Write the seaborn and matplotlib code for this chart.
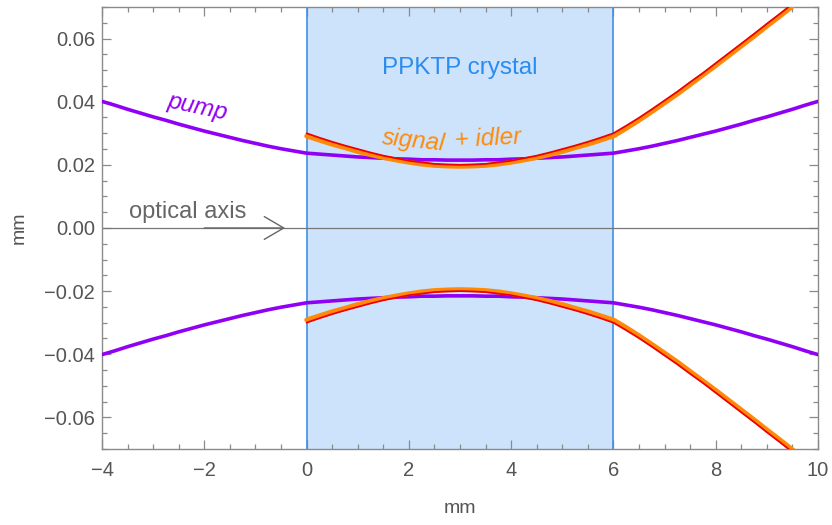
import numpy as np
import matplotlib
matplotlib.use("Agg")
import matplotlib.pyplot as plt
from matplotlib.ticker import MultipleLocator, FuncFormatter
import seaborn as sns

# Beam radii (mm) along the optical axis (mm)
pump_z = [-4.0, -3.75, -3.5, -3.25, -3.0, -2.75, -2.5, -2.25, -2.0, -1.75, -1.5, -1.25,
          -1.0, -0.75, -0.5, -0.25, 0.0, 0.25, 0.5, 0.75, 1.0, 1.25, 1.5, 1.75, 2.0, 2.25,
          2.5, 2.75, 3.0, 3.25, 3.5, 3.75, 4.0, 4.25, 4.5, 4.75, 5.0, 5.25, 5.5, 5.75, 6.0,
          6.25, 6.5, 6.75, 7.0, 7.25, 7.5, 7.75, 8.0, 8.25, 8.5, 8.75, 9.0, 9.25, 9.5,
          9.75, 10.0]
pump_w = [0.0401, 0.0389, 0.0376, 0.0364, 0.0352, 0.0341, 0.0329, 0.0318, 0.0307, 0.0297,
          0.0287, 0.0277, 0.0268, 0.0259, 0.0251, 0.0244, 0.0237, 0.0234, 0.0231, 0.0228,
          0.0225, 0.0223, 0.0221, 0.0219, 0.0218, 0.0216, 0.0216, 0.0215, 0.0215, 0.0215,
          0.0216, 0.0216, 0.0218, 0.0219, 0.0221, 0.0223, 0.0225, 0.0228, 0.0231, 0.0234,
          0.0237, 0.0244, 0.0251, 0.0259, 0.0268, 0.0277, 0.0287, 0.0297, 0.0307, 0.0318,
          0.0329, 0.0341, 0.0352, 0.0364, 0.0376, 0.0389, 0.0401]

dc_z = [0.0, 0.25, 0.5, 0.75, 1.0, 1.25, 1.5, 1.75, 2.0, 2.25, 2.5, 2.75, 3.0, 3.25, 3.5,
        3.75, 4.0, 4.25, 4.5, 4.75, 5.0, 5.25, 5.5, 5.75, 6.0, 6.25, 6.5, 6.75, 7.0, 7.25,
        7.5, 7.75, 8.0, 8.25, 8.5, 8.75, 9.0, 9.25, 9.5, 9.75, 10.0]
signal_w = [0.0291, 0.0278, 0.0265, 0.0254, 0.0242, 0.0232, 0.0223, 0.0215, 0.0208, 0.0202,
            0.0198, 0.0196, 0.0195, 0.0196, 0.0198, 0.0202, 0.0208, 0.0215, 0.0223, 0.0232,
            0.0242, 0.0254, 0.0265, 0.0278, 0.0291, 0.0315, 0.0341, 0.0368, 0.0396, 0.0424,
            0.0454, 0.0484, 0.0514, 0.0545, 0.0576, 0.0607, 0.0639, 0.0670, 0.0702, 0.0734,
            0.0766]
idler_w = [0.0300, 0.0286, 0.0273, 0.0261, 0.0250, 0.0239, 0.0229, 0.0221, 0.0213, 0.0208,
           0.0203, 0.0201, 0.0200, 0.0201, 0.0203, 0.0208, 0.0213, 0.0221, 0.0229, 0.0239,
           0.0250, 0.0261, 0.0273, 0.0286, 0.0300, 0.0324, 0.0349, 0.0376, 0.0404, 0.0432,
           0.0462, 0.0491, 0.0522, 0.0553, 0.0584, 0.0615, 0.0647, 0.0678, 0.0710, 0.0743,
           0.0775]

crystal_start, crystal_end = 0.0, 6.0
x_range = (-4, 10)
y_range = (-0.07, 0.07)

sns.set_style("ticks")
plt.rcParams["font.family"] = ["Liberation Sans", "DejaVu Sans"]

PURPLE = "#9000F5"
ORANGE = "#FF8A0A"
RED = "#F00000"
FRAME = "#8a8a8a"
TXT = "#555555"

fig = plt.figure(figsize=(8.32, 5.25), dpi=100)
ax = fig.add_axes([0.1226, 0.1448, 0.8606, 0.8419])

# crystal region
ax.axvspan(crystal_start, crystal_end, facecolor="#CDE3FB", edgecolor="none", zorder=0)
for xv in (crystal_start, crystal_end):
    ax.axvline(xv, color="#3F8FE8", lw=1.2, zorder=1)

# optical axis with an open chevron
ax.axhline(0, color="#777777", lw=0.9, zorder=1)
ax.annotate("", xy=(-0.42, 0), xytext=(-2.0, 0),
            arrowprops=dict(arrowstyle="->,head_length=1.4,head_width=0.82",
                            mutation_scale=10, color="#666666", lw=1.0,
                            shrinkA=0, shrinkB=0),
            zorder=2)

pz = np.array(pump_z); pw = np.array(pump_w)
dz = np.array(dc_z); sw = np.array(signal_w); iw = np.array(idler_w)

for sign in (1, -1):
    sns.lineplot(x=pz, y=sign * pw, ax=ax, color=PURPLE, lw=2.6, sort=False,
                 estimator=None, zorder=3)
    sns.lineplot(x=dz, y=sign * sw, ax=ax, color=ORANGE, lw=3.4, sort=False,
                 estimator=None, zorder=4)
    sns.lineplot(x=dz, y=sign * iw, ax=ax, color=RED, lw=1.3, sort=False,
                 estimator=None, zorder=5)

# labels
ax.text(3.0, 0.0506, "PPKTP crystal", color="#2B8CF0", fontsize=17.5,
        ha="center", va="center", zorder=6)
ax.text(2.10, 0.0276, "signal", color=ORANGE, fontsize=17.5, style="italic",
        ha="center", va="center", rotation=-6, zorder=6)
ax.text(3.55, 0.0283, "+ idler", color=ORANGE, fontsize=17.5, style="italic",
        ha="center", va="center", rotation=3, zorder=6)
ax.text(-2.13, 0.0383, "pump", color=PURPLE, fontsize=17.5, style="italic",
        ha="center", va="center", rotation=-12, zorder=6)
ax.text(-2.33, 0.0052, "optical axis", color="#666666", fontsize=17,
        ha="center", va="center", zorder=6)

ax.set_xlim(*x_range)
ax.set_ylim(*y_range)
ax.xaxis.set_major_locator(MultipleLocator(2))
ax.xaxis.set_minor_locator(MultipleLocator(0.5))
ax.yaxis.set_major_locator(MultipleLocator(0.02))
ax.yaxis.set_minor_locator(MultipleLocator(0.005))
ax.xaxis.set_major_formatter(FuncFormatter(lambda v, p: f"{v:g}".replace("-", "\u2212")))
ax.yaxis.set_major_formatter(FuncFormatter(lambda v, p: f"{v:.2f}".replace("-", "\u2212")))

ax.tick_params(which="both", direction="in", top=True, right=True,
               labeltop=False, labelright=False, color=FRAME, width=0.9)
ax.tick_params(which="major", length=6.5, labelsize=14.5, labelcolor=TXT)
ax.tick_params(axis="x", which="major", pad=9)
ax.tick_params(axis="y", which="major", pad=5)
ax.tick_params(which="minor", length=3.5)
for s in ax.spines.values():
    s.set_color(FRAME)
    s.set_linewidth(1.0)

ax.set_xlabel("mm", fontsize=14, color=TXT, labelpad=14)
ax.set_ylabel("mm", fontsize=14, color=TXT, labelpad=12)

fig.savefig("out.png", dpi=100)
